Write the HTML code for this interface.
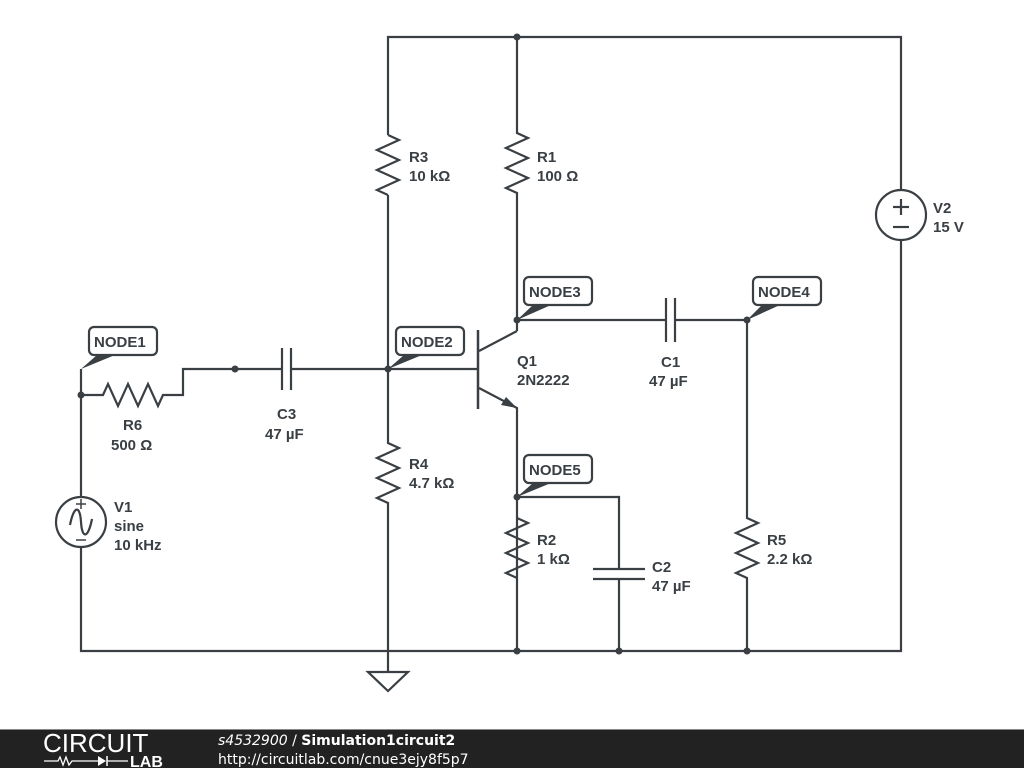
<!DOCTYPE html>
<html><head><meta charset="utf-8"><style>
body{margin:0;background:#fff;width:1024px;height:768px;overflow:hidden}
text{font-family:"Liberation Sans",sans-serif;font-size:15px;font-weight:bold;fill:#3a3f44}
</style></head><body>
<svg width="1024" height="768" viewBox="0 0 1024 768" xmlns="http://www.w3.org/2000/svg">
<g stroke="#3a3f44" stroke-width="2.2" fill="none">
<polyline points="388,369 388,195"/><polyline points="388,135 388,37 901,37 901,190"/>
<polyline points="901,240 901,651 81,651 81,547"/>
<polyline points="81,497 81,369"/>
<polyline points="388,135 399,140 377,150 399,160 377,170 399,180 377,190 388,195"/>
<polyline points="517,37 517,133 528,138 506,148 528,158 506,168 528,178 506,188 517,193 517,331"/>
<polyline points="388,369 388,443 399,448 377,458 399,468 377,478 399,488 377,498 388,503 388,651"/>
<polyline points="81,395 103,395 108,384 118,406 128,384 138,406 148,384 158,406 163,395 183,395 183,369 282,369"/>
<line x1="282" y1="348" x2="282" y2="390"/><line x1="291" y1="348" x2="291" y2="390"/>
<polyline points="291,369 478,369"/>
<line x1="478" y1="330" x2="478" y2="409" stroke-width="2.5"/>
<polyline points="479,351 517,331"/>
<polyline points="479,388 517,408 517,651"/>
<polyline points="517,320 666,320"/>
<line x1="666" y1="298" x2="666" y2="342"/><line x1="675" y1="298" x2="675" y2="342"/>
<polyline points="675,320 747,320 747,518 758,523 736,533 758,543 736,553 758,563 736,573 747,578 747,651"/>
<polyline points="517,518 528,523 506,533 528,543 506,553 528,563 506,573 517,578"/>
<polyline points="517,497 619,497 619,569"/>
<line x1="593" y1="569" x2="645" y2="569"/><line x1="593" y1="579" x2="645" y2="579"/>
<line x1="619" y1="579" x2="619" y2="651"/>
<polyline points="388,651 388,672"/>
<polygon points="368,672 408,672 388,691"/>
<circle cx="81" cy="522" r="25"/>
<path d="M70,525 C74,505 80,505 81,522 C82,539 88,539 92,519"/>
<line x1="81" y1="499" x2="81" y2="509" stroke-width="1.5"/><line x1="76" y1="504" x2="86" y2="504" stroke-width="1.5"/>
<line x1="76" y1="540" x2="86" y2="540" stroke-width="1.5"/>
<circle cx="901" cy="215" r="25"/>
<line x1="901" y1="199" x2="901" y2="215"/><line x1="893" y1="207" x2="909" y2="207"/>
<line x1="893" y1="227" x2="909" y2="227"/>
<rect x="89" y="327" width="68" height="28" rx="5" fill="#fff"/>
<rect x="396" y="327" width="68" height="28" rx="5" fill="#fff"/>
<rect x="524" y="277" width="68" height="28" rx="5" fill="#fff"/>
<rect x="753" y="277" width="68" height="28" rx="5" fill="#fff"/>
<rect x="524" y="455" width="68" height="28" rx="5" fill="#fff"/>
</g>
<g fill="#3a3f44">
<polygon points="506,397 517,408 501,405"/>
<polygon points="81,369 97,355 115,355"/>
<polygon points="388,369 404,355 422,355"/>
<polygon points="517,320 533,305 551,305"/>
<polygon points="747,320 762,305 780,305"/>
<polygon points="517,497 533,483 551,483"/>
<circle cx="81" cy="395" r="3.5"/><circle cx="235" cy="369" r="3.5"/><circle cx="388" cy="369" r="3.5"/>
<circle cx="517" cy="37" r="3.5"/><circle cx="517" cy="320" r="3.5"/><circle cx="747" cy="320" r="3.5"/>
<circle cx="517" cy="497" r="3.5"/><circle cx="517" cy="651" r="3.5"/><circle cx="619" cy="651" r="3.5"/>
<circle cx="747" cy="651" r="3.5"/>
</g>
<text x="94" y="347">NODE1</text><text x="401" y="347">NODE2</text><text x="529" y="297">NODE3</text>
<text x="758" y="297">NODE4</text><text x="529" y="475">NODE5</text>
<text x="409" y="162">R3</text><text x="409" y="181">10 kΩ</text>
<text x="537" y="162">R1</text><text x="537" y="181">100 Ω</text>
<text x="933" y="213">V2</text><text x="933" y="232">15 V</text>
<text x="517" y="366">Q1</text><text x="517" y="385">2N2222</text>
<text x="661" y="367">C1</text><text x="649" y="386">47 µF</text>
<text x="123" y="430">R6</text><text x="111" y="450">500 Ω</text>
<text x="277" y="419">C3</text><text x="265" y="439">47 µF</text>
<text x="409" y="469">R4</text><text x="409" y="488">4.7 kΩ</text>
<text x="114" y="512">V1</text><text x="114" y="531">sine</text><text x="114" y="550">10 kHz</text>
<text x="537" y="545">R2</text><text x="537" y="564">1 kΩ</text>
<text x="652" y="572">C2</text><text x="652" y="591">47 µF</text>
<text x="767" y="545">R5</text><text x="767" y="564">2.2 kΩ</text>
<rect x="0" y="729" width="1024" height="39" fill="#222"/>
<rect x="0" y="729" width="1024" height="1" fill="#888"/>
<text x="43" y="752" style="font-size:26px;font-weight:normal;fill:#fff;letter-spacing:0px">CIRCUIT</text>
<polyline points="44,761 58,761 60,757 63,765 66,757 69,765 72,761 100,761" stroke="#fff" stroke-width="1.3" fill="none"/>
<polygon points="98,756 98,766 106,761" fill="#fff"/><line x1="107" y1="756" x2="107" y2="766" stroke="#fff" stroke-width="1.5"/>
<line x1="107" y1="761" x2="128" y2="761" stroke="#fff" stroke-width="1.3"/>
<text x="130" y="767" style="font-size:16px;fill:#fff">LAB</text>
<text x="218" y="745" style="font-size:14px;fill:#fff;font-family:'DejaVu Sans',sans-serif"><tspan font-style="italic" font-weight="normal">s4532900</tspan><tspan font-weight="normal"> / </tspan>Simulation1circuit2</text>
<text x="218" y="764" style="font-size:14px;font-weight:normal;fill:#fff;font-family:'DejaVu Sans',sans-serif">http://circuitlab.com/cnue3ejy8f5p7</text>
</svg>
</body></html>
